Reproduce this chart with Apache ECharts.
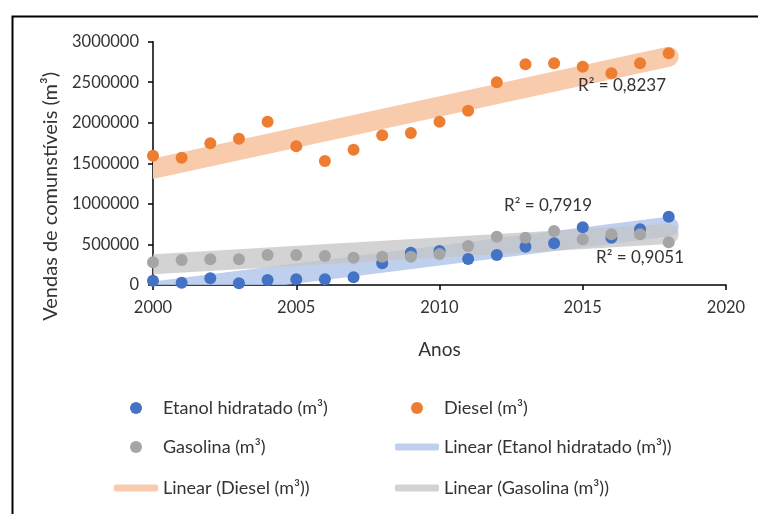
<!DOCTYPE html>
<html><head><meta charset="utf-8">
<script src="https://cdn.jsdelivr.net/npm/echarts@6/dist/echarts.min.js"></script>
<style>html,body{margin:0;padding:0;background:#fff}#c{width:758px;height:514px}</style>
</head><body><div id="c"></div>
<script>
const years = [2000,2001,2002,2003,2004,2005,2006,2007,2008,2009,2010,2011,2012,2013,2014,2015,2016,2017,2018];
const etanol = [53000,28000,83000,21000,62000,70000,70000,95000,268000,398000,419000,320000,370000,472000,514000,711000,583000,686000,842000];
const diesel = [1594000,1570000,1747000,1804000,2013000,1710000,1529000,1668000,1846000,1874000,2013000,2149000,2499000,2721000,2734000,2692000,2610000,2734000,2857000];
const gasolina = [280000,308000,317000,317000,370000,370000,358000,337000,349000,349000,382000,481000,596000,583000,666000,563000,625000,625000,526000];
const seriesNames = ['Etanol hidratado (m³)','Diesel (m³)','Gasolina (m³)'];
const trendNames = ['Linear (Etanol hidratado (m³))','Linear (Diesel (m³))','Linear (Gasolina (m³))'];
const r2Texts = ['R² = 0,7919','R² = 0,8237','R² = 0,9051'];

function pairs(xs, ys){ return xs.map((x,i)=>[x, ys[i]]); }
function linearFit(xs, ys){
  const n = xs.length;
  const mx = xs.reduce((a,b)=>a+b,0)/n, my = ys.reduce((a,b)=>a+b,0)/n;
  let sxy=0, sxx=0;
  for(let i=0;i<n;i++){ sxy+=(xs[i]-mx)*(ys[i]-my); sxx+=(xs[i]-mx)*(xs[i]-mx); }
  const b = sxy/sxx, a = my - b*mx;
  const x0 = xs[0], x1 = xs[n-1];
  return [[x0, a+b*x0, x1, a+b*x1]];
}

const FONT = 'Lato';
const TXT = '#333';
const cBlue='#4472C4', cOrange='#ED7D31', cGray='#A5A5A5';
const tBlue='rgba(180,200,235,0.85)', tOrange='#F8CBAD', tGray='rgba(196,196,196,0.75)';

const chart = echarts.init(document.getElementById('c'), null, {renderer:'canvas'});

function trend(name, ys, color, z){
  return {name, type:'custom', data: linearFit(years, ys), z, clip:true, silent:true, animation:false,
    itemStyle:{color},
    encode:{x:[0,2], y:[1,3]},
    renderItem:function(params, api){
      const p0 = api.coord([api.value(0), api.value(1)]);
      const p1 = api.coord([api.value(2), api.value(3)]);
      return {type:'line', shape:{x1:p0[0], y1:p0[1], x2:p1[0], y2:p1[1]},
        style:{stroke:color, lineWidth:20, lineCap:'round', fill:null}};
    }};
}
function scat(name, ys, color, z){
  return {name, type:'scatter', data: pairs(years, ys), symbolSize:12, z, itemStyle:{color, opacity:1}, animation:false};
}
function leg(name, left, top, icon, color, h){
  return {data:[{name, icon, itemStyle:{color}}], left, top, itemWidth:44, itemHeight:h, padding:0,
    textStyle:{fontFamily:FONT, fontSize:18, color:TXT}, selectedMode:false};
}

chart.setOption({
  animation:false,
  backgroundColor:'#fff',
  grid:{left:153, right:32, top:41.7, bottom:229, containLabel:false},
  xAxis:{type:'value', min:2000, max:2020, interval:5,
    name:'Anos', nameLocation:'middle', nameGap:55,
    nameTextStyle:{fontFamily:FONT, fontSize:19, color:TXT},
    axisLine:{show:true, lineStyle:{color:'#000', width:1.5}},
    axisTick:{show:true, inside:false, length:5, lineStyle:{color:'#000', width:1.5}},
    axisLabel:{fontFamily:FONT, fontSize:16.5, color:TXT, margin:14, formatter:function(v){return String(v);}},
    splitLine:{show:false}},
  yAxis:{type:'value', min:0, max:3000000, interval:500000,
    name:'Vendas de comunstíveis (m³)', nameLocation:'middle', nameGap:92,
    nameTextStyle:{fontFamily:FONT, fontSize:20, color:TXT, padding:[0,66,0,0]},
    axisLine:{show:true, lineStyle:{color:'#000', width:1.5}},
    axisTick:{show:true, inside:false, length:5, lineStyle:{color:'#000', width:1.5}},
    axisLabel:{fontFamily:FONT, fontSize:16.5, color:TXT, margin:14, formatter:function(v){return String(v);}},
    splitLine:{show:false}},
  legend:[
    leg(seriesNames[0], 130, 399, 'circle', cBlue, 12),
    leg(seriesNames[1], 411, 399, 'circle', cOrange, 12),
    leg(seriesNames[2], 130, 438, 'circle', cGray, 12),
    leg(trendNames[0], 395, 438, 'roundRect', tBlue, 7),
    leg(trendNames[1], 114, 479, 'roundRect', tOrange, 7),
    leg(trendNames[2], 395, 479, 'roundRect', tGray, 7)
  ],
  series:[
    trend(trendNames[0], etanol, tBlue, 1),
    trend(trendNames[1], diesel, tOrange, 1),
    trend(trendNames[2], gasolina, tGray, 1),
    scat(seriesNames[0], etanol, cBlue, 3),
    scat(seriesNames[1], diesel, cOrange, 3),
    scat(seriesNames[2], gasolina, cGray, 3)
  ],
  graphic:[
    {type:'rect', left:10, top:14, z:100, shape:{width:800, height:560}, style:{fill:'none', stroke:'#000', lineWidth:2}, silent:true},
    {type:'text', left:578, top:77, z:100, style:{text:r2Texts[1], font:'17px '+FONT, fill:TXT}},
    {type:'text', left:504, top:197, z:100, style:{text:r2Texts[0], font:'17px '+FONT, fill:TXT}},
    {type:'text', left:596, top:249, z:100, style:{text:r2Texts[2], font:'17px '+FONT, fill:TXT}}
  ]
});
</script></body></html>
